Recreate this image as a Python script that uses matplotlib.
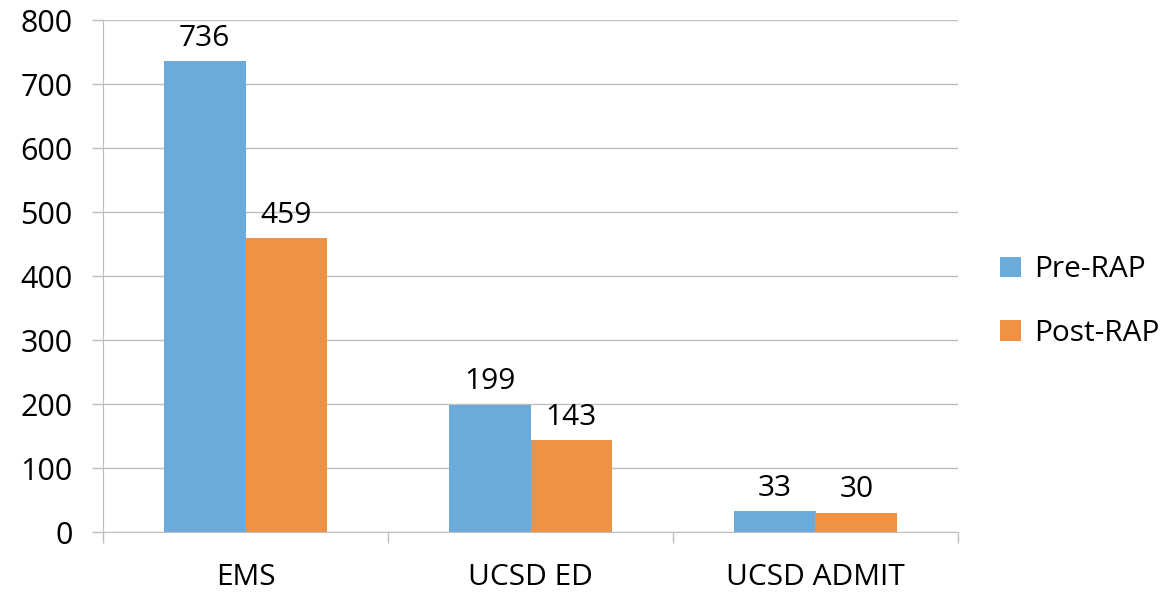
import matplotlib
matplotlib.use("Agg")
import matplotlib.pyplot as plt
import numpy as np

categories = ["EMS", "UCSD ED", "UCSD ADMIT"]
pre_rap = [736, 199, 33]
post_rap = [459, 143, 30]
series_names = ["Pre-RAP", "Post-RAP"]
yticks = [0, 100, 200, 300, 400, 500, 600, 700, 800]

plt.rcParams['font.family'] = ['Open Sans', 'DejaVu Sans']

fig = plt.figure(figsize=(11.63, 5.95), dpi=100)
ax = fig.add_axes([103/1163, 1-532/595, (958-103)/1163, (532-20)/595])

x = np.arange(len(categories))
w = 0.286
c_blue = "#6BABDC"
c_orange = "#F09243"
b1 = ax.bar(x - w/2, pre_rap, w, color=c_blue, label=series_names[0], zorder=3)
b2 = ax.bar(x + w/2, post_rap, w, color=c_orange, label=series_names[1], zorder=3)

for bars, vals in ((b1, pre_rap), (b2, post_rap)):
    for rect, v in zip(bars, vals):
        ax.annotate(str(v), (rect.get_x() + rect.get_width()/2, v),
                    xytext=(0, 6), textcoords="offset points",
                    ha="center", va="bottom", fontsize=21.5, color="black")

ax.set_xlim(-0.5, len(categories) - 0.5)
ax.set_ylim(0, 800)
ax.set_yticks(yticks)
ax.set_yticklabels([str(t) for t in yticks], fontsize=22)
ax.set_xticks(x)
ax.set_xticklabels(categories, fontsize=21.5)
ax.set_xticks(np.arange(len(categories) + 1) - 0.5, minor=True)
ax.tick_params(axis="x", which="major", length=0, pad=22)
ax.tick_params(axis="x", which="minor", length=8, color="#BFBFBF", width=1)
ax.tick_params(axis="y", length=8, color="#BFBFBF", width=1, pad=14)

ax.grid(axis="y", color="#BFBFBF", linewidth=1, zorder=0)
ax.set_axisbelow(True)
for s in ("top", "right"):
    ax.spines[s].set_visible(False)
ax.spines["left"].set_color("#BFBFBF")
ax.spines["bottom"].set_color("#BFBFBF")
ax.spines["left"].set_bounds(-15, 800)

leg = ax.legend(loc="center left", bbox_to_anchor=(1.035, 0.45), frameon=False,
                fontsize=21.5, handlelength=0.7, handleheight=0.7,
                handletextpad=0.45, labelspacing=1.15, borderaxespad=0)

fig.savefig("out.png", dpi=100)
